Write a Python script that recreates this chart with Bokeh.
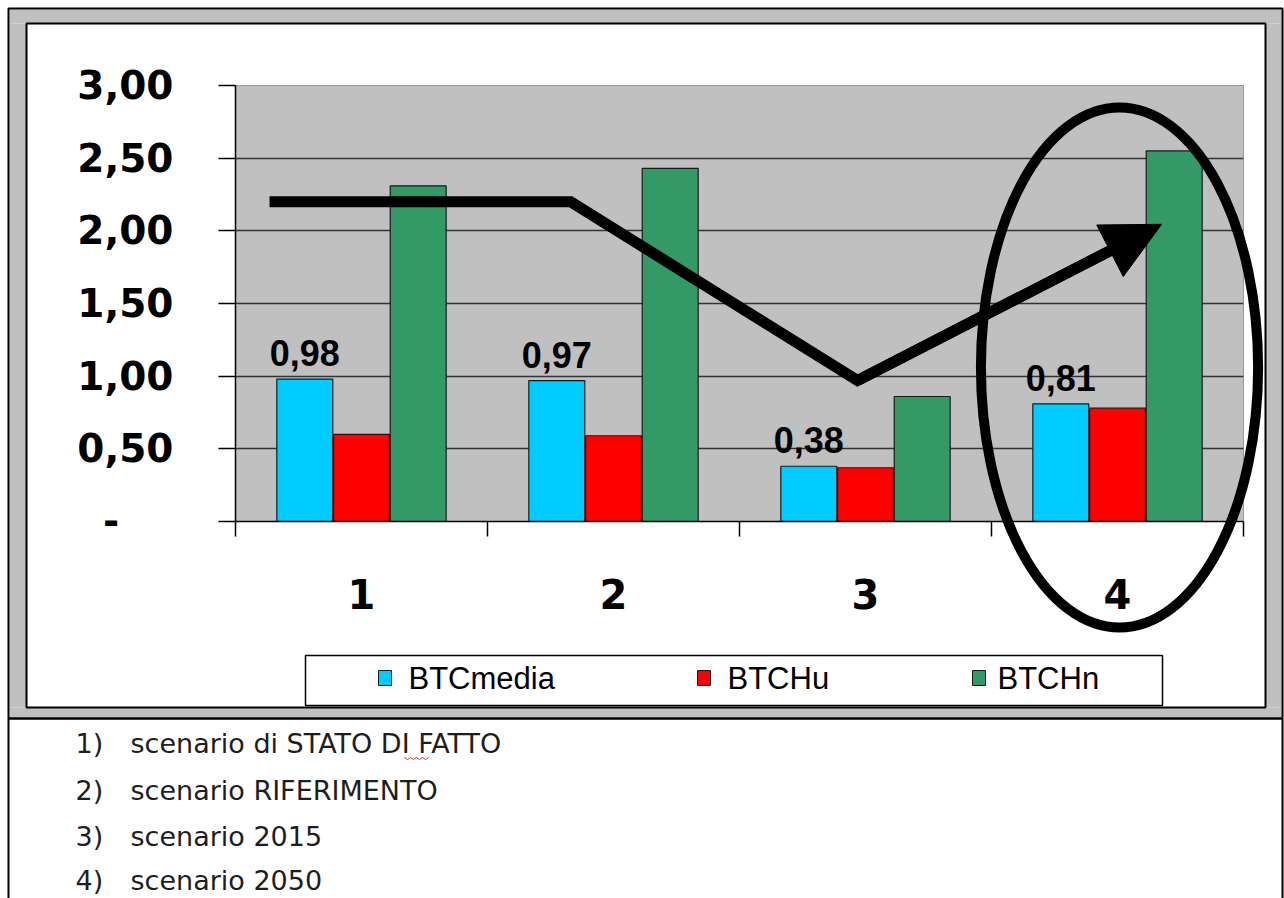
from bokeh.plotting import figure
from bokeh.models import ColumnDataSource, FixedTicker, Range1d, Arrow, NormalHead
from bokeh.transform import dodge
from bokeh.core.properties import value
from bokeh.embed import file_html
from bokeh.resources import INLINE

# ---------------- data ----------------
categories = ["1", "2", "3", "4"]
series_names = ["BTCmedia", "BTCHu", "BTCHn"]
btc_media = [0.98, 0.97, 0.38, 0.81]
btc_hu = [0.60, 0.59, 0.37, 0.78]
btc_hn = [2.31, 2.43, 0.86, 2.55]
y_ticks = [0.0, 0.5, 1.0, 1.5, 2.0, 2.5, 3.0]
y_tick_labels = ["-", "0,50", "1,00", "1,50", "2,00", "2,50", "3,00"]
note_numbers = ["1)", "2)", "3)", "4)"]
scenario_notes = ["scenario di STATO DI FATTO", "scenario RIFERIMENTO",
                  "scenario 2015", "scenario 2050"]

# hand-drawn annotation (trend arrow + ellipse), in data coordinates
trend_x = [0.635, 1.83, 2.968, 4.175]
trend_y = [2.20, 2.20, 0.97, 2.045]
ellipse_center = (4.008, 1.06)
ellipse_size = (1.10, 3.58)

colors = ["#00CCFF", "#FF0000", "#339966"]

# ---------------- layout ----------------
W, H = 1284, 898
FL, FR, FT, FB = 235, 1243, 85, 521

p = figure(width=W, height=H, x_range=(0.5, 4.5), y_range=(0, 3.0),
           output_backend="svg", toolbar_location=None,
           min_border_left=FL, min_border_right=W - FR,
           min_border_top=FT, min_border_bottom=H - FB)
# pixel-coordinate ranges for page decorations (extrapolated beyond the frame)
p.extra_x_ranges = {"px": Range1d(FL, FR)}
p.extra_y_ranges = {"px": Range1d(FB, FT)}
p.background_fill_color = "#C0C0C0"
p.border_fill_color = "white"
p.outline_line_color = "#9a9a9a"
p.outline_line_width = 1

# bars
xs = list(range(1, len(categories) + 1))
src = ColumnDataSource(dict(
    x=xs, media=btc_media, hu=btc_hu, hn=btc_hn,
    media_lbl=[f"{v:.2f}".replace(".", ",") for v in btc_media]))
bw = 0.222
off = 0.225
rs = []
for key, dx, c in zip(["media", "hu", "hn"], [-off, 0, off], colors):
    r = p.vbar(x=dodge("x", dx, range=p.x_range), top=key, width=bw, source=src,
               fill_color=c, line_color="#1a1a1a", line_width=1.2)
    rs.append(r)

# data labels on BTCmedia
p.text(x=dodge("x", -off, range=p.x_range), y="media", text="media_lbl", source=src,
       text_font=value("Liberation Sans"), text_font_style="bold",
       text_font_size="36px", text_color="black", text_align="center",
       text_baseline="alphabetic", y_offset=-26)

# axes
p.xgrid.visible = False
p.ygrid.ticker = FixedTicker(ticks=y_ticks[1:-1])
p.ygrid.grid_line_color = "#333333"
p.ygrid.grid_line_width = 1.5

p.yaxis.ticker = FixedTicker(ticks=y_ticks)
p.yaxis.major_label_overrides = {
    t: (l + "\u00a0" * 4 if l == "-" else l) for t, l in zip(y_ticks, y_tick_labels)}
p.yaxis.major_label_text_font = "DejaVu Sans"
p.yaxis.major_label_text_font_style = "bold"
p.yaxis.major_label_text_font_size = "39px"
p.yaxis.major_label_text_color = "black"
p.yaxis.major_label_standoff = 45
p.yaxis.major_tick_out = 17
p.yaxis.major_tick_in = 0
p.yaxis.minor_tick_out = 0
p.yaxis.minor_tick_in = 0
p.yaxis.axis_line_color = "black"
p.yaxis.axis_line_width = 1.5
p.yaxis.major_tick_line_width = 1.5
p.yaxis.major_tick_line_color = "black"

boundaries = [k + 0.5 for k in range(len(categories) + 1)]
p.xaxis.ticker = FixedTicker(ticks=xs, minor_ticks=boundaries)
p.xaxis.major_label_overrides = {x: c for x, c in zip(xs, categories)}
p.xaxis.major_label_text_font = "DejaVu Sans"
p.xaxis.major_label_text_font_style = "bold"
p.xaxis.major_label_text_font_size = "40px"
p.xaxis.major_label_text_color = "black"
p.xaxis.major_label_standoff = 42
p.xaxis.major_tick_out = 0
p.xaxis.major_tick_in = 0
p.xaxis.minor_tick_out = 15
p.xaxis.minor_tick_in = 0
p.xaxis.minor_tick_line_color = "black"
p.xaxis.minor_tick_line_width = 1.5
p.xaxis.axis_line_color = "black"
p.xaxis.axis_line_width = 1.5

# trend arrow
frac = 0.9
cut_x = trend_x[2] + frac * (trend_x[3] - trend_x[2])
cut_y = trend_y[2] + frac * (trend_y[3] - trend_y[2])
p.line(x=trend_x[:3] + [cut_x], y=trend_y[:3] + [cut_y], line_width=11,
       line_color="black", line_join="miter", line_cap="butt")
p.add_layout(Arrow(end=NormalHead(size=58, fill_color="black", line_color="black",
                                  line_width=1),
                   x_start=trend_x[2], y_start=trend_y[2],
                   x_end=trend_x[3], y_end=trend_y[3],
                   line_width=11, line_color="black"))

# ellipse highlight (drawn above everything, may extend beyond the plot area)
p.ellipse(x=[ellipse_center[0]], y=[ellipse_center[1]], width=[ellipse_size[0]],
          height=[ellipse_size[1]], fill_alpha=0, line_color="black", line_width=10,
          level="overlay")

# ---------------- page decorations, in canvas pixels ----------------
PX = dict(x_range_name="px", y_range_name="px", level="overlay")
gray = "#C0C0C0"
# gray band between outer and inner frame lines
p.quad(left=[9, 9, 9, 1265], right=[1281, 1281, 26, 1281],
       top=[9, 707, 23, 23], bottom=[23, 717, 707, 707],
       fill_color=gray, line_alpha=0, **PX)
# frame lines
p.quad(left=[8, 8, 26], right=[1282, 1282, 1265], top=[8, 718, 23], bottom=[718, 940, 707],
       fill_alpha=0, line_color="black", line_width=2, **PX)
# legend box
p.quad(left=[305], right=[1162], top=[655], bottom=[705], fill_alpha=0,
       line_color="black", line_width=1.5, **PX)
leg_sq_x = [378, 697, 972]
leg_txt_x = [408, 727, 997]
p.quad(left=leg_sq_x, right=[x + 13 for x in leg_sq_x], top=[670] * 3, bottom=[685] * 3,
       fill_color=colors, line_color="#1a1a1a", line_width=1, **PX)
p.text(x=leg_txt_x, y=[678] * 3, text=series_names, text_font=value("Liberation Sans"),
       text_font_size="31px", text_color="black", text_baseline="middle",
       text_align="left", **PX)

# scenario notes below the chart
row_y = [743, 790, 836, 880]
p.text(x=[75] * 4, y=row_y, text=note_numbers, text_font=value("DejaVu Sans"),
       text_font_size="27px", text_color="#1e1e1e", text_baseline="middle",
       text_align="left", **PX)
p.text(x=[130] * 4, y=row_y, text=scenario_notes, text_font=value("DejaVu Sans"),
       text_font_size="27px", text_color="#1e1e1e", text_baseline="middle",
       text_align="left", **PX)
# spell-check squiggle under "DI"
sq_x = [404 + 3 * k for k in range(9)]
p.line(x=sq_x, y=[757 + (2 if k % 2 else 0) for k in range(9)], line_color="#e03030",
       line_width=1, **PX)

open("out.html", "w").write(file_html(p, INLINE))
